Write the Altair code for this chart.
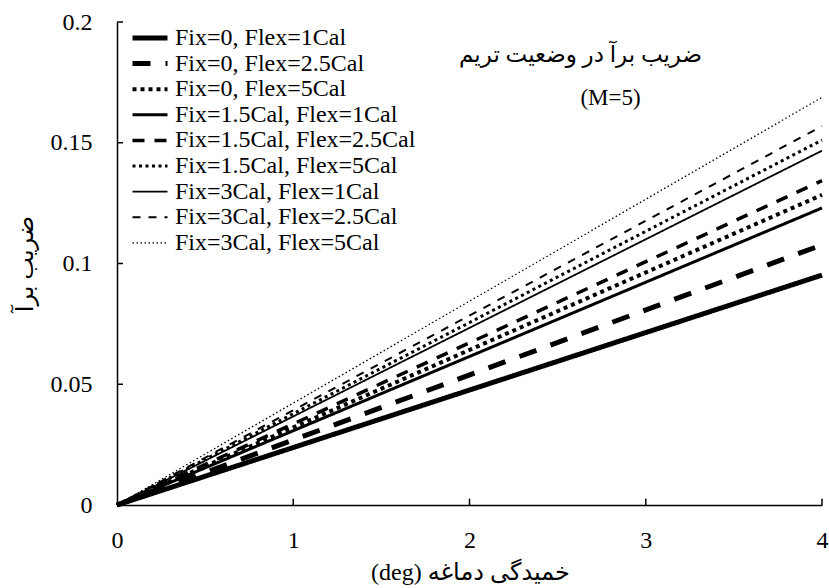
import altair as alt
import pandas as pd

# ---- data ----
series = [
    "Fix=0, Flex=1Cal", "Fix=0, Flex=2.5Cal", "Fix=0, Flex=5Cal",
    "Fix=1.5Cal, Flex=1Cal", "Fix=1.5Cal, Flex=2.5Cal", "Fix=1.5Cal, Flex=5Cal",
    "Fix=3Cal, Flex=1Cal", "Fix=3Cal, Flex=2.5Cal", "Fix=3Cal, Flex=5Cal",
]
x_points = [0.0, 4.0]
cl_start = [0.0, 0.0, 0.0, 0.0, 0.0, 0.0, 0.0, 0.0, 0.0]
cl_end = [0.0952, 0.1077, 0.1284, 0.1230, 0.1343, 0.1511, 0.1467, 0.1569, 0.1688]

dash_styles = [[1, 0], [18, 15], [4, 4], [1, 0], [12, 10], [3, 3.5], [1, 0], [8, 8], [1.5, 2.5]]
width_styles = [5, 5, 4, 3, 3.5, 3, 1.8, 2, 1.3]

x_ticks = [0, 1, 2, 3, 4]
y_ticks = [0, 0.05, 0.1, 0.15, 0.2]

note_text = ["ضریب برآ در وضعیت تریم", "(M=5)"]
note_x = [2.63, 2.80]
note_y = [0.1863, 0.1685]

x_title = "(deg) خمیدگی دماغه"
y_title = "ضریب برآ"

FONT = "Liberation Serif, DejaVu Sans"

rows = []
for s, a, b in zip(series, cl_start, cl_end):
    rows.append({"series": s, "x": x_points[0], "y": a})
    rows.append({"series": s, "x": x_points[1], "y": b})
lines_df = pd.DataFrame(rows)

xt_df = pd.DataFrame({"x": x_ticks[1:], "y": [0.0] * 4, "y2": [0.0026] * 4})
yt_df = pd.DataFrame({"y": y_ticks[1:], "x": [0.0] * 4, "x2": [0.034] * 4})
note_df = pd.DataFrame({"t": note_text, "x": note_x, "y": note_y})

xscale = alt.Scale(domain=[0, 4], nice=False, zero=False)
yscale = alt.Scale(domain=[0, 0.2], nice=False)

legend = alt.Legend(
    title=None, orient="none", legendX=13, legendY=4, symbolType="stroke",
    symbolSize=1225, symbolStrokeColor="black", clipHeight=24, rowPadding=1.6,
    labelFontSize=24, labelFont=FONT, labelColor="black", labelOffset=5,
    labelLimit=400, padding=0,
)

x_axis = alt.Axis(
    values=x_ticks, format="d", ticks=False, grid=False, domainColor="black",
    domainWidth=1.5, labelFont=FONT, labelFontSize=24, labelColor="black",
    labelPadding=23, labelFlush=False, labelOverlap=False,
    title=x_title, titleFont=FONT, titleFontSize=24, titleFontWeight="normal",
    titleColor="black", titleX=353, titleY=67, titleAlign="center",
    titleBaseline="middle",
)
y_axis = alt.Axis(
    values=y_ticks, format="~g", ticks=False, grid=False, domainColor="black",
    domainWidth=1.5, labelFont=FONT, labelFontSize=24, labelColor="black",
    labelPadding=25, labelOverlap=False,
    title=y_title, titleFont=FONT, titleFontSize=24, titleFontWeight="normal",
    titleColor="black", titleX=-92, titleY=241.5, titleAngle=-90,
    titleAlign="center", titleBaseline="middle",
)

lines = alt.Chart(lines_df).mark_line(color="black").encode(
    x=alt.X("x:Q", scale=xscale, axis=x_axis, title=x_title),
    y=alt.Y("y:Q", scale=yscale, axis=y_axis, title=y_title),
    detail="series:N",
    strokeDash=alt.StrokeDash(
        "series:N", scale=alt.Scale(domain=series, range=dash_styles), legend=legend
    ),
    strokeWidth=alt.StrokeWidth(
        "series:N",
        scale=alt.Scale(type="ordinal", domain=series, range=width_styles),
        legend=legend,
    ),
)

xt = alt.Chart(xt_df).mark_rule(color="black", strokeWidth=1.5).encode(
    x=alt.X("x:Q", scale=xscale, axis=x_axis, title=x_title),
    y=alt.Y("y:Q", scale=yscale, axis=y_axis, title=y_title),
    y2="y2:Q",
)
yt = alt.Chart(yt_df).mark_rule(color="black", strokeWidth=1.5).encode(
    y=alt.Y("y:Q", scale=yscale, axis=y_axis, title=y_title),
    x=alt.X("x:Q", scale=xscale, axis=x_axis, title=x_title),
    x2="x2:Q",
)
notes = alt.Chart(note_df).mark_text(
    font=FONT, fontSize=23, color="black", align="center", baseline="middle"
).encode(
    x=alt.X("x:Q", scale=xscale, axis=x_axis, title=x_title),
    y=alt.Y("y:Q", scale=yscale, axis=y_axis, title=y_title),
    text="t:N",
)

chart = alt.layer(lines, xt, yt, notes).properties(
    width=705, height=483,
    padding={"left": 117, "top": 22, "right": 7, "bottom": 83},
    autosize="none", background="white",
).configure_view(stroke=None)

chart.save("out.html", embed_options={"renderer": "svg", "actions": False})
